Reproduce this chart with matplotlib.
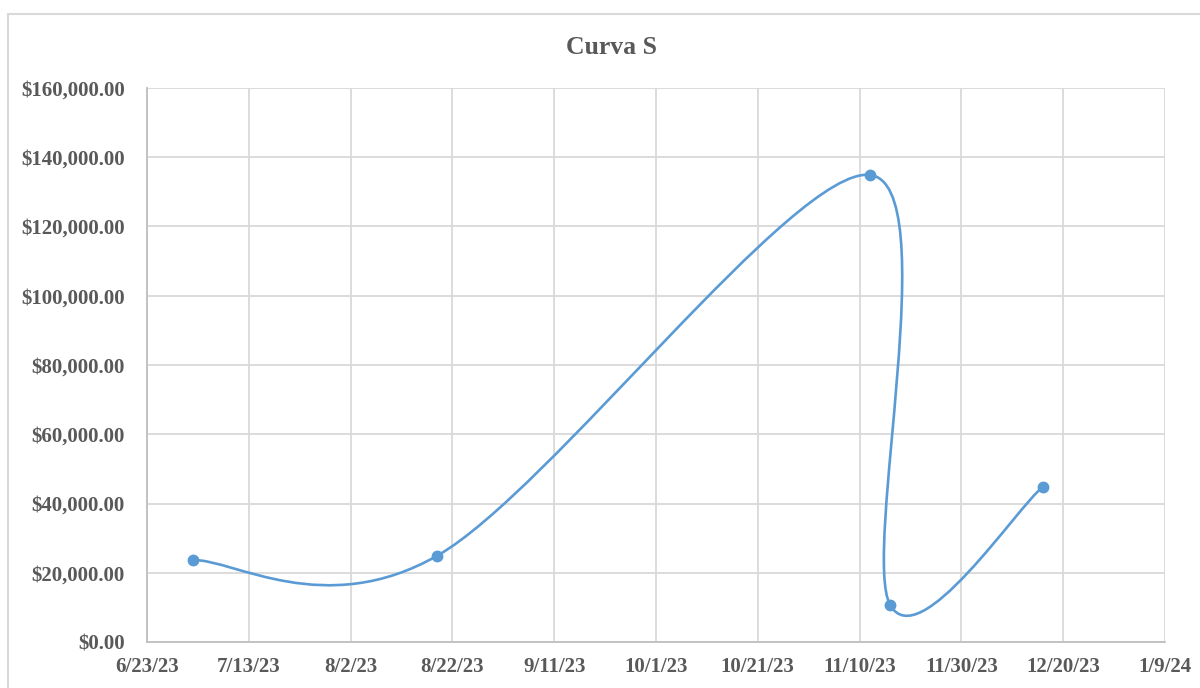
import matplotlib
matplotlib.use("Agg")
import matplotlib.pyplot as plt
import matplotlib.dates as mdates
from matplotlib.path import Path
from matplotlib.patches import PathPatch, Rectangle
from matplotlib.ticker import FuncFormatter, MultipleLocator
import datetime as dt
import numpy as np

# ---- data ----
title = "Curva S"
dates = ["2023-07-02", "2023-08-19", "2023-11-12", "2023-11-16", "2023-12-16"]
values = [23700, 24900, 134900, 10700, 44800]
x_start = "2023-06-23"
x_end = "2024-01-09"
x_step_days = 20
y_max = 160000
y_step = 20000

line_color = "#5B9BD5"
text_color = "#595959"
grid_color = "#D9D9D9"

plt.rcParams['font.family'] = ['Liberation Serif', 'DejaVu Serif']

fig = plt.figure(figsize=(12, 6.88), dpi=100)
W, H = 1200, 688
ax = fig.add_axes([147 / W, 1 - 642 / H, (1165 - 147) / W, (642 - 88) / H])

# chart border
fig.patches.append(Rectangle((8 / W, -0.1), 1.2, 1 - 14 / H + 0.1, transform=fig.transFigure,
                             fill=False, edgecolor=grid_color, linewidth=1.5, clip_on=False))

xd = np.array([mdates.date2num(dt.date.fromisoformat(d)) for d in dates])
yv = np.array(values, dtype=float)

# Smoothed line (Excel style cubic Bezier through points)
P = np.column_stack([xd, yv])
n = len(P)
verts = [tuple(P[0])]
codes = [Path.MOVETO]
for i in range(n - 1):
    prev = P[i - 1] if i > 0 else P[i]
    nxt = P[i + 2] if i + 2 < n else P[i + 1]
    c1 = P[i] + (P[i + 1] - prev) / 6.0
    c2 = P[i + 1] - (nxt - P[i]) / 6.0
    verts += [tuple(c1), tuple(c2), tuple(P[i + 1])]
    codes += [Path.CURVE4] * 3
ax.add_patch(PathPatch(Path(verts, codes), facecolor="none", edgecolor=line_color,
                       linewidth=1.9, capstyle="round", joinstyle="round", zorder=3))
ax.plot(xd, yv, linestyle="none", marker="o", markersize=7.5, color=line_color, zorder=4)

x0 = mdates.date2num(dt.date.fromisoformat(x_start))
x1 = mdates.date2num(dt.date.fromisoformat(x_end))
ax.set_xlim(x0, x1)
ax.set_ylim(0, y_max)
ax.set_xticks(np.arange(x0, x1 + 0.5, x_step_days))
ax.yaxis.set_major_locator(MultipleLocator(y_step))

def fmt_date(v, pos):
    d = mdates.num2date(v)
    return f"{d.month}/{d.day}/{d.strftime('%y')}"

ax.xaxis.set_major_formatter(FuncFormatter(fmt_date))
ax.yaxis.set_major_formatter(FuncFormatter(lambda v, p: f"${v:,.2f}"))

ax.grid(True, color=grid_color, linewidth=1.3)
ax.set_axisbelow(True)
for s in ["top", "right"]:
    ax.spines[s].set_visible(False)
for s in ["left", "bottom"]:
    ax.spines[s].set_color("#BFBFBF")
    ax.spines[s].set_linewidth(1.3)
ax.tick_params(axis="both", length=0, labelsize=15, labelcolor=text_color)
ax.tick_params(axis="y", pad=16)
ax.tick_params(axis="x", pad=11)
for lab in ax.get_xticklabels() + ax.get_yticklabels():
    lab.set_fontweight("bold")

fig.text(611 / W, 1 - 47 / H, title, ha="center", va="center", fontsize=18.5,
         fontweight="bold", color=text_color)

fig.savefig("out.png", dpi=100)
